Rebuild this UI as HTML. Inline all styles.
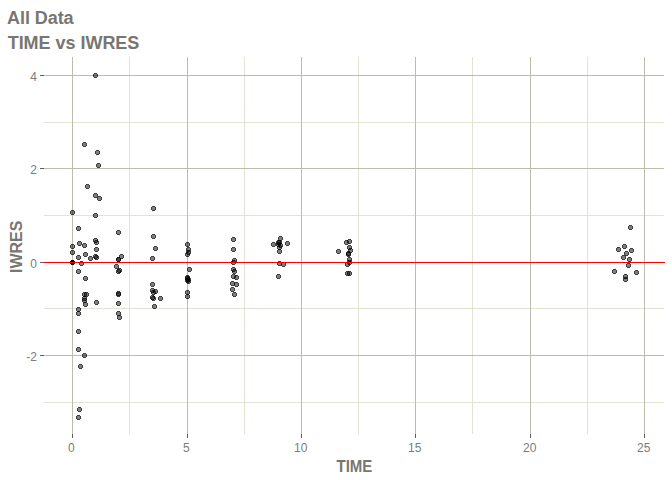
<!DOCTYPE html>
<html lang="en"><head><meta charset="utf-8"><title>All Data - TIME vs IWRES</title>
<style>
html,body{margin:0;padding:0;background:#fff;}
body{width:672px;height:480px;overflow:hidden;}
svg{display:block;}
text{font-family:"Liberation Sans",Arial,Helvetica,sans-serif;}
.t{font-weight:bold;font-size:18px;fill:#787670;}
.a{font-weight:bold;font-size:15px;fill:#787670;}
.l{font-size:12px;fill:#7b7b7b;}
</style></head><body>
<svg width="672" height="480" viewBox="0 0 672 480">
<rect x="0" y="0" width="672" height="480" fill="#ffffff"/>
<defs>
<g id="p"><path d="M-1.5-2.5h3v1h1v3h-1v1h-3v-1h-1v-3h1z" fill="#000" fill-opacity="0.5"/><path d="M-1.5-2.5h3v1h1v3h-1v1h-3v-1h-1v-3h1zM-1.5-1.5v3h3v-3z" fill="#000" fill-opacity="0.5" fill-rule="evenodd"/></g>
</defs>

<g shape-rendering="crispEdges">
<rect x="44" y="122" width="620" height="1" fill="#E3E3D3"/>
<rect x="44" y="215" width="620" height="1" fill="#E3E3D3"/>
<rect x="44" y="308" width="620" height="1" fill="#E3E3D3"/>
<rect x="44" y="402" width="620" height="1" fill="#E3E3D3"/>
<rect x="129" y="57" width="1" height="377" fill="#E3E3D3"/>
<rect x="244" y="57" width="1" height="377" fill="#E3E3D3"/>
<rect x="358" y="57" width="1" height="377" fill="#E3E3D3"/>
<rect x="472" y="57" width="1" height="377" fill="#E3E3D3"/>
<rect x="587" y="57" width="1" height="377" fill="#E3E3D3"/>
<rect x="44" y="75" width="620" height="1" fill="#BDBDAE"/>
<rect x="44" y="168" width="620" height="1" fill="#BDBDAE"/>
<rect x="44" y="262" width="620" height="1" fill="#BDBDAE"/>
<rect x="44" y="355" width="620" height="1" fill="#BDBDAE"/>
<rect x="72" y="57" width="1" height="377" fill="#BDBDAE"/>
<rect x="187" y="57" width="1" height="377" fill="#BDBDAE"/>
<rect x="301" y="57" width="1" height="377" fill="#BDBDAE"/>
<rect x="415" y="57" width="1" height="377" fill="#BDBDAE"/>
<rect x="530" y="57" width="1" height="377" fill="#BDBDAE"/>
<rect x="644" y="57" width="1" height="377" fill="#BDBDAE"/>
<rect x="40" y="75" width="4" height="1" fill="#5e5e5e"/>
<rect x="40" y="168" width="4" height="1" fill="#5e5e5e"/>
<rect x="40" y="262" width="4" height="1" fill="#5e5e5e"/>
<rect x="40" y="355" width="4" height="1" fill="#5e5e5e"/>
<rect x="72" y="434" width="1" height="4" fill="#5e5e5e"/>
<rect x="187" y="434" width="1" height="4" fill="#5e5e5e"/>
<rect x="301" y="434" width="1" height="4" fill="#5e5e5e"/>
<rect x="415" y="434" width="1" height="4" fill="#5e5e5e"/>
<rect x="530" y="434" width="1" height="4" fill="#5e5e5e"/>
<rect x="644" y="434" width="1" height="4" fill="#5e5e5e"/>
<use href="#p" x="95.5" y="75.5"/>
<use href="#p" x="84.5" y="144.5"/>
<use href="#p" x="97.5" y="152.5"/>
<use href="#p" x="98.5" y="165.5"/>
<use href="#p" x="87.5" y="186.5"/>
<use href="#p" x="95.5" y="195.5"/>
<use href="#p" x="99.5" y="198.5"/>
<use href="#p" x="72.5" y="212.5"/>
<use href="#p" x="95.5" y="215.5"/>
<use href="#p" x="78.5" y="228.5"/>
<use href="#p" x="95.5" y="240.5"/>
<use href="#p" x="96.5" y="242.5"/>
<use href="#p" x="79.5" y="243.5"/>
<use href="#p" x="84.5" y="245.5"/>
<use href="#p" x="72.5" y="246.5"/>
<use href="#p" x="96.5" y="249.5"/>
<use href="#p" x="72.5" y="252.5"/>
<use href="#p" x="85.5" y="254.5"/>
<use href="#p" x="95.5" y="256.5"/>
<use href="#p" x="96.5" y="257.5"/>
<use href="#p" x="78.5" y="257.5"/>
<use href="#p" x="90.5" y="258.5"/>
<use href="#p" x="72.5" y="262.5"/>
<use href="#p" x="72.5" y="262.5"/>
<use href="#p" x="72.5" y="262.5"/>
<use href="#p" x="72.5" y="262.5"/>
<use href="#p" x="72.5" y="262.5"/>
<use href="#p" x="72.5" y="262.5"/>
<use href="#p" x="81.5" y="263.5"/>
<use href="#p" x="78.5" y="271.5"/>
<use href="#p" x="85.5" y="278.5"/>
<use href="#p" x="84.5" y="294.5"/>
<use href="#p" x="86.5" y="294.5"/>
<use href="#p" x="84.5" y="298.5"/>
<use href="#p" x="84.5" y="300.5"/>
<use href="#p" x="96.5" y="302.5"/>
<use href="#p" x="85.5" y="304.5"/>
<use href="#p" x="78.5" y="309.5"/>
<use href="#p" x="78.5" y="313.5"/>
<use href="#p" x="78.5" y="331.5"/>
<use href="#p" x="78.5" y="349.5"/>
<use href="#p" x="84.5" y="355.5"/>
<use href="#p" x="80.5" y="366.5"/>
<use href="#p" x="79.5" y="409.5"/>
<use href="#p" x="78.5" y="417.5"/>
<use href="#p" x="118.5" y="232.5"/>
<use href="#p" x="121.5" y="256.5"/>
<use href="#p" x="118.5" y="259.5"/>
<use href="#p" x="118.5" y="259.5"/>
<use href="#p" x="116.5" y="266.5"/>
<use href="#p" x="119.5" y="270.5"/>
<use href="#p" x="118.5" y="271.5"/>
<use href="#p" x="118.5" y="293.5"/>
<use href="#p" x="118.5" y="294.5"/>
<use href="#p" x="118.5" y="303.5"/>
<use href="#p" x="118.5" y="313.5"/>
<use href="#p" x="119.5" y="317.5"/>
<use href="#p" x="153.5" y="208.5"/>
<use href="#p" x="153.5" y="236.5"/>
<use href="#p" x="155.5" y="248.5"/>
<use href="#p" x="152.5" y="258.5"/>
<use href="#p" x="152.5" y="284.5"/>
<use href="#p" x="152.5" y="290.5"/>
<use href="#p" x="155.5" y="291.5"/>
<use href="#p" x="153.5" y="292.5"/>
<use href="#p" x="152.5" y="297.5"/>
<use href="#p" x="153.5" y="298.5"/>
<use href="#p" x="160.5" y="298.5"/>
<use href="#p" x="154.5" y="306.5"/>
<use href="#p" x="187.5" y="244.5"/>
<use href="#p" x="188.5" y="249.5"/>
<use href="#p" x="188.5" y="252.5"/>
<use href="#p" x="187.5" y="254.5"/>
<use href="#p" x="189.5" y="269.5"/>
<use href="#p" x="187.5" y="277.5"/>
<use href="#p" x="187.5" y="278.5"/>
<use href="#p" x="187.5" y="280.5"/>
<use href="#p" x="188.5" y="279.5"/>
<use href="#p" x="188.5" y="281.5"/>
<use href="#p" x="187.5" y="292.5"/>
<use href="#p" x="187.5" y="296.5"/>
<use href="#p" x="233.5" y="239.5"/>
<use href="#p" x="233.5" y="249.5"/>
<use href="#p" x="234.5" y="260.5"/>
<use href="#p" x="233.5" y="262.5"/>
<use href="#p" x="233.5" y="269.5"/>
<use href="#p" x="234.5" y="271.5"/>
<use href="#p" x="233.5" y="276.5"/>
<use href="#p" x="236.5" y="277.5"/>
<use href="#p" x="232.5" y="283.5"/>
<use href="#p" x="236.5" y="284.5"/>
<use href="#p" x="232.5" y="289.5"/>
<use href="#p" x="234.5" y="294.5"/>
<use href="#p" x="280.5" y="238.5"/>
<use href="#p" x="273.5" y="244.5"/>
<use href="#p" x="287.5" y="243.5"/>
<use href="#p" x="278.5" y="242.5"/>
<use href="#p" x="279.5" y="242.5"/>
<use href="#p" x="278.5" y="244.5"/>
<use href="#p" x="280.5" y="245.5"/>
<use href="#p" x="279.5" y="247.5"/>
<use href="#p" x="279.5" y="251.5"/>
<use href="#p" x="279.5" y="263.5"/>
<use href="#p" x="283.5" y="264.5"/>
<use href="#p" x="278.5" y="276.5"/>
<use href="#p" x="346.5" y="242.5"/>
<use href="#p" x="349.5" y="241.5"/>
<use href="#p" x="349.5" y="247.5"/>
<use href="#p" x="350.5" y="250.5"/>
<use href="#p" x="338.5" y="251.5"/>
<use href="#p" x="348.5" y="253.5"/>
<use href="#p" x="348.5" y="254.5"/>
<use href="#p" x="349.5" y="259.5"/>
<use href="#p" x="349.5" y="262.5"/>
<use href="#p" x="347.5" y="264.5"/>
<use href="#p" x="347.5" y="273.5"/>
<use href="#p" x="349.5" y="273.5"/>
<use href="#p" x="630.5" y="227.5"/>
<use href="#p" x="624.5" y="246.5"/>
<use href="#p" x="618.5" y="249.5"/>
<use href="#p" x="631.5" y="250.5"/>
<use href="#p" x="626.5" y="253.5"/>
<use href="#p" x="623.5" y="257.5"/>
<use href="#p" x="629.5" y="259.5"/>
<use href="#p" x="628.5" y="265.5"/>
<use href="#p" x="614.5" y="271.5"/>
<use href="#p" x="636.5" y="272.5"/>
<use href="#p" x="625.5" y="276.5"/>
<use href="#p" x="625.5" y="279.5"/>
<rect x="44" y="262" width="621" height="1" fill="#ff0000"/>
</g>
<text class="l" x="37" y="81" text-anchor="end">4</text>
<text class="l" x="37" y="174" text-anchor="end">2</text>
<text class="l" x="37" y="268" text-anchor="end">0</text>
<text class="l" x="37" y="361" text-anchor="end">-2</text>
<text class="l" x="71.3" y="452" text-anchor="middle">0</text>
<text class="l" x="186.3" y="452" text-anchor="middle">5</text>
<text class="l" x="300.8" y="452" text-anchor="middle">10</text>
<text class="l" x="414.8" y="452" text-anchor="middle">15</text>
<text class="l" x="529.8" y="452" text-anchor="middle">20</text>
<text class="l" x="643.8" y="452" text-anchor="middle">25</text>
<text class="t" x="7" y="24" style="letter-spacing:-0.06px">All Data</text>
<text class="t" x="7.7" y="49" style="letter-spacing:-0.03px">TIME vs IWRES</text>
<text class="a" transform="translate(354.4,471.6) scale(1,1.07)" text-anchor="middle">TIME</text>
<text class="a" style="font-size:16px" transform="translate(21.6,246.8) rotate(-90)" text-anchor="middle">IWRES</text>
</svg></body></html>
